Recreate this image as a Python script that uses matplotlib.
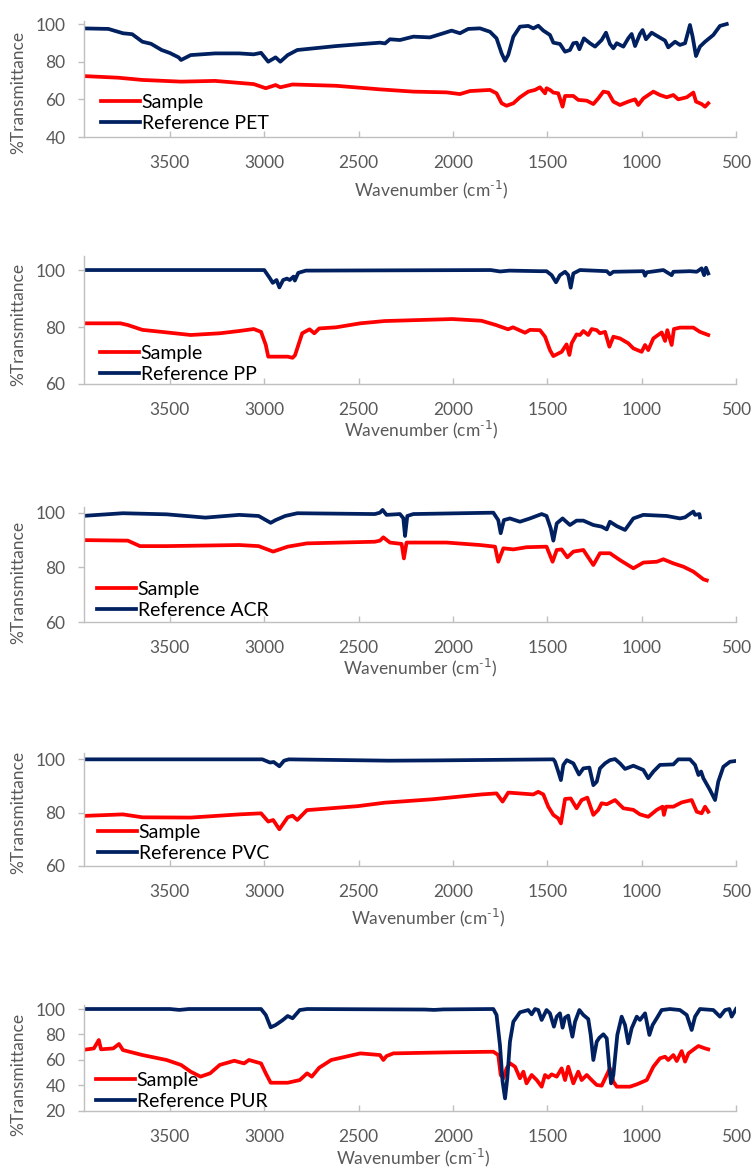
import matplotlib
matplotlib.use("Agg")
import matplotlib.pyplot as plt

# ---- data ----
pet_sample_wn = [3967, 3775, 3646, 3441, 3261, 3056, 2992, 2940, 2915, 2850, 2619, 2387, 2210, 2034, 1963,
                 1910, 1804, 1769, 1742, 1716, 1680, 1645, 1601, 1565, 1539, 1512, 1504, 1486, 1468, 1442,
                 1419, 1406, 1362, 1336, 1291, 1256, 1230, 1203, 1177, 1150, 1115, 1071, 1035, 1018, 991,
                 938, 903, 867, 832, 806, 761, 726, 712, 682, 664, 647]
pet_sample_t = [72.4, 71.5, 70.3, 69.4, 69.8, 68.1, 65.9, 67.6, 66.4, 67.9, 67.2, 65.3, 64.1, 63.7, 62.8,
                64.4, 65.0, 63.2, 57.9, 56.6, 57.9, 61.1, 64.1, 65.0, 66.4, 63.2, 65.9, 65.0, 63.6, 63.2,
                56.1, 61.8, 61.8, 59.7, 59.3, 57.5, 60.5, 64.1, 63.6, 58.8, 57.0, 58.8, 60.0, 57.0, 60.5,
                64.1, 62.3, 61.1, 62.3, 60.0, 61.1, 63.6, 58.8, 57.5, 56.1, 57.9]
pet_ref_wn = [3967, 3826, 3749, 3700, 3646, 3600, 3544, 3500, 3454, 3441, 3390, 3261, 3133, 3056, 3017,
              2979, 2940, 2915, 2876, 2825, 2619, 2491, 2387, 2360, 2334, 2281, 2210, 2122, 2051, 2007,
              1963, 1919, 1857, 1804, 1769, 1742, 1724, 1707, 1680, 1645, 1601, 1574, 1548, 1521, 1486,
              1468, 1433, 1406, 1380, 1362, 1344, 1330, 1306, 1274, 1247, 1212, 1189, 1168, 1150, 1132,
              1097, 1071, 1053, 1035, 1009, 995, 977, 947, 912, 876, 859, 823, 797, 770, 744, 730, 712,
              691, 664, 620, 585, 549]
pet_ref_t = [97.7, 97.4, 95.1, 94.6, 90.6, 89.5, 86.2, 84.6, 82.3, 80.9, 83.5, 84.4, 84.4, 83.9, 84.7,
             80.0, 82.3, 80.0, 83.5, 86.2, 88.3, 89.3, 90.1, 89.7, 91.9, 91.5, 93.3, 92.9, 95.1, 96.5,
             95.1, 97.4, 97.7, 95.9, 92.4, 84.4, 80.5, 83.6, 93.3, 98.6, 99.0, 97.7, 99.1, 96.5, 94.2,
             90.1, 89.4, 85.3, 86.2, 89.8, 90.1, 86.6, 92.4, 89.8, 88.0, 91.5, 95.4, 89.4, 87.1, 89.8,
             88.0, 92.4, 94.7, 88.3, 94.7, 96.8, 91.9, 95.4, 93.3, 91.2, 87.6, 90.6, 88.9, 89.8, 99.5,
             93.3, 83.0, 88.0, 90.6, 94.2, 99.0, 100.0]

pp_sample_wn = [3967, 3762, 3723, 3646, 3544, 3390, 3236, 3133, 3056, 3017, 2992, 2979, 2876, 2850, 2837,
                2799, 2760, 2735, 2709, 2619, 2491, 2362, 2003, 1849, 1772, 1708, 1682, 1618, 1592, 1539,
                1512, 1486, 1468, 1424, 1398, 1383, 1371, 1345, 1327, 1309, 1283, 1265, 1238, 1221, 1194,
                1171, 1150, 1115, 1071, 1044, 1000, 982, 965, 938, 894, 876, 864, 841, 829, 797, 726,
                691, 647]
pp_sample_t = [81.3, 81.3, 80.7, 79.0, 78.3, 77.2, 77.8, 78.6, 79.3, 78.3, 73.7, 69.6, 69.6, 69.2, 70.1,
               77.8, 79.2, 77.8, 79.5, 79.9, 81.3, 82.1, 82.8, 82.2, 80.7, 79.2, 79.9, 78.0, 79.0, 78.9,
               76.6, 71.9, 69.8, 71.3, 73.9, 70.2, 74.3, 77.4, 77.2, 78.6, 77.2, 79.3, 78.9, 77.8, 78.3,
               73.1, 76.6, 76.0, 74.3, 72.5, 71.3, 73.7, 71.9, 76.0, 78.1, 75.1, 78.9, 73.7, 79.3, 79.8, 79.8,
               78.3, 77.2]
pp_ref_wn = [3967, 3000, 2970, 2955, 2935, 2920, 2900, 2880, 2865, 2845, 2838, 2820, 2780, 1800, 1750,
             1700, 1539, 1504, 1477, 1454, 1433, 1406, 1389, 1376, 1362, 1327, 1185, 1168, 1150, 991,
             982, 973, 885, 841, 832, 744, 708, 682, 669, 659, 647]
pp_ref_t = [100.0, 100.0, 97.1, 95.5, 96.5, 93.9, 96.5, 97.0, 96.5, 97.7, 96.3, 99.0, 99.8, 100.0, 99.5,
            99.8, 99.6, 99.6, 98.2, 95.7, 98.2, 99.4, 98.2, 93.8, 98.8, 100.0, 99.6, 98.5, 99.4, 99.6,
            98.0, 99.2, 100.0, 98.2, 99.4, 99.6, 99.4, 100.6, 98.2, 100.8, 98.8]

acr_sample_wn = [3967, 3723, 3659, 3518, 3133, 3030, 2953, 2876, 2774, 2414, 2387, 2369, 2334, 2272, 2260,
                 2246, 2034, 1857, 1777, 1760, 1733, 1680, 1610, 1504, 1472, 1450, 1424, 1394, 1362, 1309,
                 1256, 1221, 1168, 1115, 1044, 991, 920, 885, 832, 779, 726, 673, 655]
acr_sample_t = [90.0, 89.8, 87.8, 87.8, 88.2, 87.8, 85.8, 87.6, 88.8, 89.4, 89.8, 91.0, 89.1, 88.6, 83.3,
                89.1, 89.1, 88.2, 87.6, 82.1, 87.0, 86.6, 87.4, 87.6, 82.1, 86.4, 86.6, 83.7, 85.8, 86.4,
                80.9, 85.2, 85.2, 82.7, 79.7, 81.8, 82.1, 83.0, 81.5, 80.3, 78.5, 75.7, 75.3]
acr_ref_wn = [3967, 3749, 3518, 3312, 3133, 3030, 2966, 2940, 2889, 2825, 2414, 2387, 2373, 2352, 2281,
              2263, 2254, 2242, 2210, 1786, 1760, 1747, 1730, 1698, 1645, 1592, 1530, 1504, 1482, 1468,
              1450, 1419, 1380, 1345, 1309, 1256, 1212, 1185, 1168, 1132, 1088, 1044, 991, 867, 797,
              770, 752, 726, 717, 694, 691]
acr_ref_t = [98.8, 99.8, 99.4, 98.2, 99.2, 98.8, 96.3, 97.3, 98.8, 99.8, 99.5, 100.0, 101.0, 99.2, 99.5,
             98.0, 91.5, 98.8, 99.5, 100.0, 97.3, 92.5, 97.3, 97.9, 96.7, 97.9, 99.5, 98.8, 94.3, 89.8,
             96.1, 97.9, 95.5, 97.1, 97.1, 95.5, 94.9, 93.9, 96.7, 95.1, 93.7, 97.9, 99.2, 98.8, 97.9,
             98.3, 99.2, 100.4, 99.2, 99.5, 98.3]

pvc_sample_wn = [3967, 3749, 3646, 3390, 3133, 3017, 2979, 2953, 2920, 2876, 2850, 2825, 2774, 2504, 2362,
                 2106, 1849, 1769, 1737, 1707, 1574, 1548, 1521, 1495, 1468, 1442, 1428, 1406, 1376, 1345,
                 1318, 1288, 1256, 1230, 1212, 1185, 1141, 1097, 1044, 1009, 965, 920, 889, 882, 871,
                 832, 788, 735, 708, 682, 664, 647]
pvc_sample_t = [78.7, 79.3, 78.2, 78.1, 79.3, 79.7, 76.6, 77.2, 73.7, 78.2, 78.8, 77.2, 80.9, 82.4, 83.7,
                85.0, 86.8, 87.2, 84.1, 87.5, 86.8, 87.8, 86.8, 82.2, 79.1, 77.8, 75.9, 85.1, 85.3, 81.6,
                84.7, 85.6, 79.1, 81.0, 83.5, 83.1, 84.7, 81.6, 81.0, 79.3, 78.4, 81.0, 82.2, 79.1, 82.2,
                82.2, 83.8, 84.7, 80.3, 79.7, 82.2, 80.3]
pvc_ref_wn = [3967, 3010, 2970, 2950, 2920, 2895, 2870, 2340, 2100, 1468, 1459, 1442, 1428, 1415, 1397,
              1362, 1332, 1309, 1277, 1256, 1238, 1221, 1194, 1168, 1141, 1115, 1088, 1044, 991, 965,
              938, 903, 832, 806, 744, 717, 699, 685, 673, 638, 611, 594, 567, 532, 500]
pvc_ref_t = [100.0, 100.0, 98.8, 99.0, 97.4, 99.5, 100.0, 99.5, 99.6, 100.0, 99.1, 95.4, 92.2, 97.9, 99.7,
             98.5, 94.3, 96.6, 96.9, 90.3, 91.6, 96.6, 98.5, 99.7, 100.1, 98.5, 96.4, 97.6, 96.0, 92.9,
             95.4, 97.9, 98.1, 100.0, 100.0, 97.9, 94.1, 95.4, 92.9, 88.5, 84.7, 91.6, 97.2, 99.1, 99.4]

pur_sample_wn = [3967, 3903, 3877, 3865, 3800, 3770, 3749, 3646, 3518, 3441, 3390, 3338, 3287, 3236, 3159,
                 3107, 3081, 3017, 2992, 2966, 2876, 2812, 2773, 2748, 2709, 2645, 2568, 2491, 2387, 2369,
                 2352, 2316, 2034, 1786, 1760, 1747, 1733, 1716, 1698, 1671, 1645, 1627, 1610, 1583, 1556,
                 1530, 1512, 1495, 1477, 1450, 1424, 1406, 1389, 1362, 1336, 1318, 1291, 1265, 1238, 1212,
                 1185, 1168, 1150, 1132, 1062, 1026, 973, 938, 903, 876, 859, 832, 814, 788, 770, 752,
                 717, 699, 664, 647]
pur_sample_t = [67.7, 69.0, 75.6, 68.3, 69.0, 72.5, 67.7, 63.8, 59.9, 56.0, 50.7, 46.8, 49.4, 56.0, 59.3,
                57.2, 59.9, 57.2, 49.4, 42.0, 42.0, 44.1, 49.4, 46.8, 53.8, 59.9, 62.5, 65.1, 63.8, 59.9,
                63.0, 65.1, 65.9, 66.4, 63.8, 48.1, 45.5, 53.3, 57.3, 54.6, 45.5, 50.7, 41.5, 48.1, 44.1,
                38.9, 48.1, 46.0, 48.6, 46.8, 53.3, 44.1, 54.6, 41.5, 50.7, 44.1, 48.1, 44.1, 40.2, 39.7,
                48.1, 53.3, 42.8, 38.9, 38.9, 40.7, 44.1, 54.6, 61.2, 62.5, 59.9, 63.8, 59.1, 66.9, 58.6,
                65.1, 69.0, 70.9, 69.0, 68.3]
pur_ref_wn = [3967, 3500, 3450, 3400, 3017, 2992, 2966, 2940, 2902, 2876, 2850, 2812, 2773, 2150, 2100,
              2050, 1786, 1769, 1751, 1737, 1724, 1712, 1698, 1680, 1645, 1601, 1583, 1565, 1548, 1530,
              1504, 1486, 1465, 1450, 1433, 1419, 1406, 1389, 1380, 1367, 1353, 1330, 1309, 1283, 1270,
              1256, 1238, 1224, 1203, 1185, 1171, 1162, 1150, 1129, 1106, 1088, 1071, 1053, 1026, 1009,
              982, 959, 942, 920, 894, 850, 797, 761, 735, 717, 691, 620, 585, 558, 535, 523, 500]
pur_ref_t = [100.0, 100.0, 99.3, 100.0, 100.0, 95.3, 85.6, 87.4, 91.3, 94.5, 92.7, 99.2, 100.0, 99.6, 99.3,
             99.7, 100.0, 95.3, 71.7, 42.8, 29.7, 45.5, 74.3, 90.0, 97.4, 99.2, 95.8, 100.0, 99.2, 91.4,
             99.2, 96.6, 86.1, 94.0, 96.6, 85.3, 93.2, 94.8, 87.4, 78.2, 90.0, 99.2, 95.3, 92.1, 79.6,
             59.9, 74.3, 77.4, 80.1, 76.9, 53.3, 41.5, 48.0, 79.6, 94.0, 87.4, 73.0, 84.8, 94.0, 91.4,
             96.6, 79.6, 87.4, 92.7, 99.2, 100.0, 99.2, 95.3, 83.5, 94.0, 100.0, 99.2, 94.0, 99.2, 100.0,
             94.0, 100.0]

ref_names = ["Reference PET", "Reference PP", "Reference ACR", "Reference PVC", "Reference PUR"]
sample_wn = [pet_sample_wn, pp_sample_wn, acr_sample_wn, pvc_sample_wn, pur_sample_wn]
sample_t = [pet_sample_t, pp_sample_t, acr_sample_t, pvc_sample_t, pur_sample_t]
ref_wn = [pet_ref_wn, pp_ref_wn, acr_ref_wn, pvc_ref_wn, pur_ref_wn]
ref_t = [pet_ref_t, pp_ref_t, acr_ref_t, pvc_ref_t, pur_ref_t]
y_ticks = [[40, 60, 80, 100], [60, 80, 100], [60, 80, 100], [60, 80, 100], [20, 40, 60, 80, 100]]
y_limits = [(40, 101.5), (60, 105), (60, 102), (60, 102.5), (20, 103)]
x_ticks = [3500, 3000, 2500, 2000, 1500, 1000, 500]

# ---- layout in pixels of the 754x1167 picture ----
W, H = 754, 1167
ax_left, ax_right = 83.5, 736
ax_px = [(21.2, 137), (255.8, 384), (507.2, 622.3), (752.7, 865.7), (1005.2, 1110.7)]  # top, bottom
ylabel_y = [92, 324, 582, 812, 1074]
xlabel_xy = [(431, 190), (421, 430), (420, 668), (428, 918), (413, 1158)]
legend_xy = [(101, 113), (100, 364), (97, 600), (98, 843), (96, 1091)]

RED = "#FF0000"
NAVY = "#002060"
GRAY_TXT = "#595959"
GRAY_AX = "#BFBFBF"

plt.rcParams["font.family"] = ["Lato", "DejaVu Sans"]

fig = plt.figure(figsize=(W / 100, H / 100), dpi=100)

for i in range(5):
    top, bot = ax_px[i]
    ax = fig.add_axes([ax_left / W, 1 - bot / H, (ax_right - ax_left) / W, (bot - top) / H])
    ax.plot(sample_wn[i], sample_t[i], color=RED, lw=2.7, label="Sample", solid_joinstyle="round")
    ax.plot(ref_wn[i], ref_t[i], color=NAVY, lw=2.7, label=ref_names[i], solid_joinstyle="round")

    ax.set_xlim(3958, 500)
    ax.set_ylim(*y_limits[i])
    ax.set_xticks(x_ticks)
    ax.set_yticks(y_ticks[i])
    for s in ["top", "right"]:
        ax.spines[s].set_visible(False)
    for s in ["left", "bottom"]:
        ax.spines[s].set_color(GRAY_AX)
        ax.spines[s].set_linewidth(1.0)
    ax.tick_params(axis="x", direction="in", length=4, width=1, color=GRAY_AX,
                   labelsize=12.5, labelcolor=GRAY_TXT, pad=13)
    ax.tick_params(axis="y", direction="out", length=4, width=1, color=GRAY_AX,
                   labelsize=12.5, labelcolor=GRAY_TXT, pad=9)

    ax.set_ylabel("%Transmittance", fontsize=12.5, color=GRAY_TXT, va="center", ha="center")
    ax.yaxis.set_label_coords(18 / W, 1 - ylabel_y[i] / H, transform=fig.transFigure)
    # plain hyphen in the superscript, as in the original axis title
    ax.set_xlabel("Wavenumber (cm$^{\\mathregular{\u2010}1}$)", fontsize=12.5, color=GRAY_TXT,
                  va="center", ha="center")
    ax.xaxis.set_label_coords(xlabel_xy[i][0] / W, 1 - xlabel_xy[i][1] / H, transform=fig.transFigure)

    lx, ly = legend_xy[i]
    ax.legend(loc="center left", bbox_to_anchor=(lx / W, 1 - ly / H),
              bbox_transform=fig.transFigure, frameon=False, fontsize=14,
              handlelength=2.0, handletextpad=0.1, borderpad=0, borderaxespad=0,
              labelspacing=0.2)

fig.savefig("out.png", dpi=100)
